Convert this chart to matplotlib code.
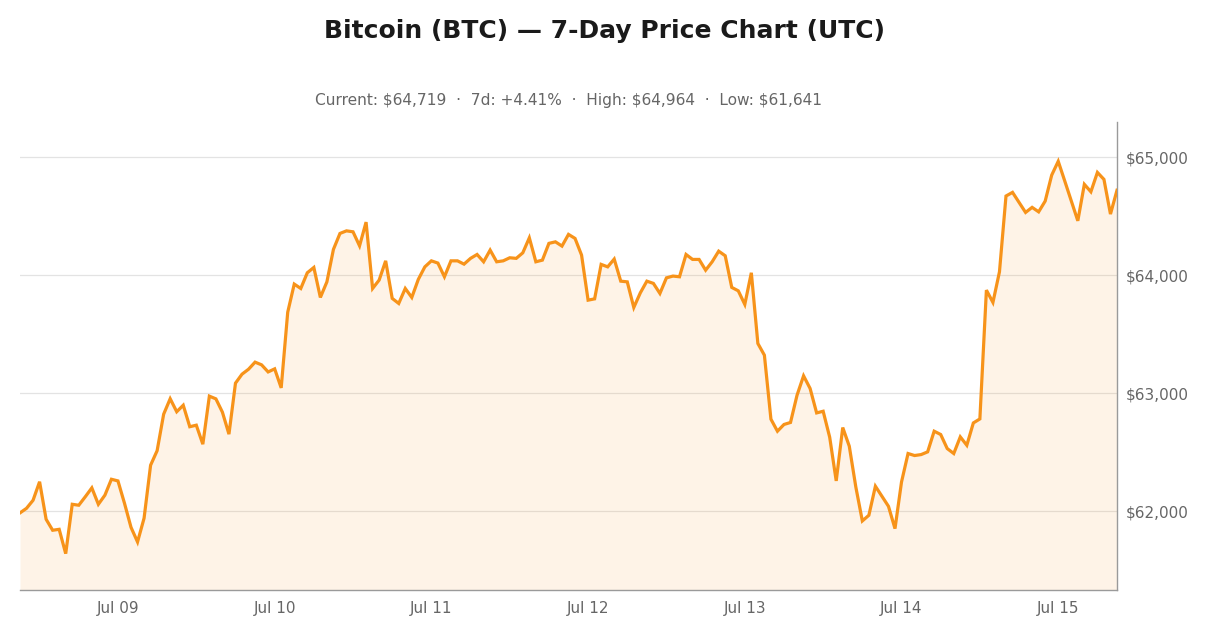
import numpy as np
import pandas as pd
import matplotlib
matplotlib.use("Agg")
import matplotlib.pyplot as plt
import matplotlib.dates as mdates
from matplotlib.ticker import FuncFormatter

plt.rcParams["font.family"] = ["DejaVu Sans"]

# Hourly BTC prices (UTC), 169 points
start_time = "2024-07-08 09:00"
prices = [
    61986, 62025, 62093, 62250, 61932, 61839, 61847, 61641, 62059, 62051,
    62123, 62198, 62059, 62136, 62271, 62257, 62068, 61864, 61740, 61941,
    62390, 62513, 62822, 62953, 62843, 62898, 62716, 62729, 62568, 62975,
    62952, 62839, 62653, 63085, 63161, 63203, 63263, 63240, 63180, 63206,
    63045, 63686, 63924, 63887, 64020, 64065, 63811, 63943, 64218, 64353,
    64375, 64367, 64248, 64449, 63887, 63958, 64121, 63803, 63760, 63887,
    63811, 63964, 64070, 64121, 64102, 63986, 64121, 64121, 64093, 64142,
    64175, 64113, 64212, 64113, 64121, 64147, 64142, 64189, 64316, 64113,
    64127, 64269, 64282, 64246, 64345, 64311, 64170, 63788, 63799, 64091,
    64070, 64136, 63949, 63943, 63726, 63850, 63949, 63930, 63845, 63977,
    63992, 63986, 64175, 64133, 64133, 64042, 64113, 64203, 64164, 63896,
    63867, 63752, 64020, 63421, 63322, 62780, 62678, 62735, 62752, 62983,
    63147, 63040, 62833, 62847, 62627, 62257, 62709, 62551, 62206, 61918,
    61966, 62212, 62127, 62042, 61853, 62248, 62489, 62472, 62480, 62503,
    62678, 62650, 62531, 62489, 62630, 62559, 62748, 62782, 63873, 63769,
    64028, 64670, 64701, 64616, 64531, 64574, 64536, 64627, 64847, 64964,
    64797, 64627, 64460, 64769, 64706, 64870, 64811, 64517, 64719,
]
times = pd.date_range(start_time, periods=len(prices), freq="h")
prices = np.array(prices, dtype=float)

y_ticks = [62000, 63000, 64000, 65000]
title = "Bitcoin (BTC) \u2014 7-Day Price Chart (UTC)"

current = prices[-1]
change = (prices[-1] / prices[0] - 1) * 100
high = prices.max()
low = prices.min()
subtitle = (f"Current: ${current:,.0f}  \u00b7  7d: {change:+.2f}%  \u00b7  "
            f"High: ${high:,.0f}  \u00b7  Low: ${low:,.0f}")

orange = "#F7931A"

fig = plt.figure(figsize=(12.10, 6.36), dpi=100)
ax = fig.add_axes([20 / 1210, 46 / 636, 1097 / 1210, 468 / 636])

ax.plot(times, prices, color=orange, linewidth=2.3, zorder=3, solid_joinstyle="miter")
ax.fill_between(times, prices, 61333, color=orange, alpha=0.1, linewidth=0, zorder=2)

ax.set_xlim(times[0], times[-1])
ax.set_ylim(61333, 65297)

ax.yaxis.tick_right()
ax.set_yticks(y_ticks)
ax.yaxis.set_major_formatter(FuncFormatter(lambda v, p: f"${v:,.0f}"))
ax.xaxis.set_major_locator(mdates.DayLocator())
ax.xaxis.set_major_formatter(mdates.DateFormatter("%b %d"))

ax.tick_params(axis="both", length=0, labelsize=11, labelcolor="#666666")
ax.tick_params(axis="y", pad=6)
ax.tick_params(axis="x", pad=8)

ax.grid(axis="y", color="#e3e3e3", linewidth=0.9, zorder=1)
ax.grid(axis="x", visible=False)
ax.set_axisbelow(True)

for s in ["left", "top"]:
    ax.spines[s].set_visible(False)
for s in ["right", "bottom"]:
    ax.spines[s].set_color("#9a9a9a")
    ax.spines[s].set_linewidth(1.0)

fig.text(0.5, 1 - 31 / 636, title, ha="center", va="center",
         fontsize=18, fontweight="bold", color="#1a1a1a")
fig.text(568.5 / 1210, 1 - 101 / 636, subtitle, ha="center", va="center",
         fontsize=11.1, color="#666666")

fig.savefig("out.png", dpi=100)
